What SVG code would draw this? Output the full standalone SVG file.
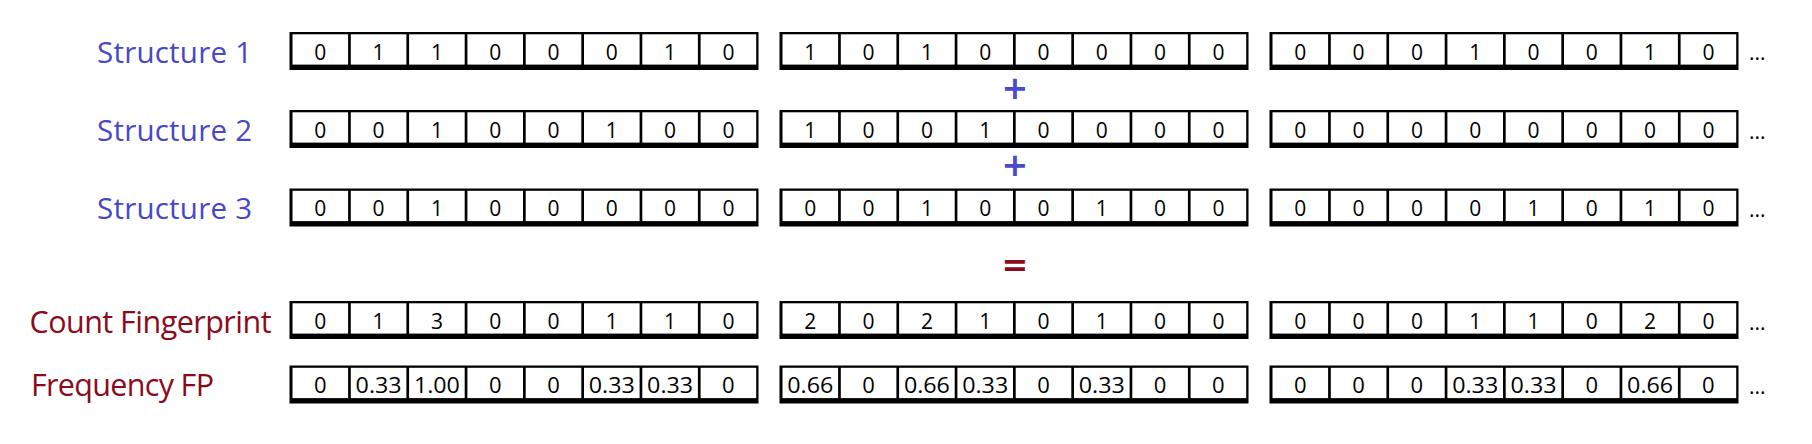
<svg xmlns="http://www.w3.org/2000/svg" xmlns:xlink="http://www.w3.org/1999/xlink" width="1812" height="444" viewBox="0 0 1812 444">
<style>
.d{font-family:"Open Sans","Noto Sans",sans-serif;font-size:21px;fill:#000;text-anchor:middle}
.f{font-family:"Open Sans","Noto Sans",sans-serif;font-size:22px;fill:#000;text-anchor:middle}
.dots{font-family:"Open Sans","Noto Sans",sans-serif;font-size:21px;fill:#000}
.lb{font-family:"Open Sans","Noto Sans",sans-serif;font-size:29.5px;fill:#4747c9}
.lr{font-family:"Open Sans","Noto Sans",sans-serif;font-size:30.5px;fill:#8b0b1d}
.op{font-family:"DejaVu Sans",sans-serif;font-weight:bold;text-anchor:middle;font-size:32px}
</style>
<defs>
<g id="frame">
<rect x="0" y="0" width="469" height="38" fill="#000"/>
<rect x="3" y="2.3" width="55.6" height="30.3" fill="#fff"/>
<rect x="61.3" y="2.3" width="55.6" height="30.3" fill="#fff"/>
<rect x="119.6" y="2.3" width="55.6" height="30.3" fill="#fff"/>
<rect x="177.9" y="2.3" width="55.6" height="30.3" fill="#fff"/>
<rect x="236.2" y="2.3" width="55.6" height="30.3" fill="#fff"/>
<rect x="294.5" y="2.3" width="55.6" height="30.3" fill="#fff"/>
<rect x="352.8" y="2.3" width="55.6" height="30.3" fill="#fff"/>
<rect x="411.1" y="2.3" width="55.6" height="30.3" fill="#fff"/>
</g>
</defs>
<rect width="1812" height="444" fill="#fff"/>

<g id="labels">
<text class="lb" x="97" y="62.7" textLength="155">Structure 1</text>
<text class="lb" x="97" y="141" textLength="155">Structure 2</text>
<text class="lb" x="97" y="219.3" textLength="155">Structure 3</text>
<text class="lr" x="29.5" y="333" textLength="242">Count Fingerprint</text>
<text class="lr" x="31" y="395.5" textLength="183">Frequency FP</text>
</g>

<g id="structure1">
<use href="#frame" x="289.5" y="32"/>
<use href="#frame" x="779.5" y="32"/>
<use href="#frame" x="1269.5" y="32"/>
<text class="d" y="59.5" x="320.3 378.6 436.9 495.2 553.5 611.8 670.1 728.4">01100010</text>
<text class="d" y="59.5" x="810.3 868.6 926.9 985.2 1043.5 1101.8 1160.1 1218.4">10100000</text>
<text class="d" y="59.5" x="1300.3 1358.6 1416.9 1475.2 1533.5 1591.8 1650.1 1708.4">00010010</text>
<text class="dots" x="1749" y="60">...</text>
</g>

<g id="structure2">
<use href="#frame" x="289.5" y="110"/>
<use href="#frame" x="779.5" y="110"/>
<use href="#frame" x="1269.5" y="110"/>
<text class="d" y="137.5" x="320.3 378.6 436.9 495.2 553.5 611.8 670.1 728.4">00100100</text>
<text class="d" y="137.5" x="810.3 868.6 926.9 985.2 1043.5 1101.8 1160.1 1218.4">10010000</text>
<text class="d" y="137.5" x="1300.3 1358.6 1416.9 1475.2 1533.5 1591.8 1650.1 1708.4">00000000</text>
<text class="dots" x="1749" y="138.5">...</text>
</g>

<g id="structure3">
<use href="#frame" x="289.5" y="188.5"/>
<use href="#frame" x="779.5" y="188.5"/>
<use href="#frame" x="1269.5" y="188.5"/>
<text class="d" y="216" x="320.3 378.6 436.9 495.2 553.5 611.8 670.1 728.4">00100000</text>
<text class="d" y="216" x="810.3 868.6 926.9 985.2 1043.5 1101.8 1160.1 1218.4">00100100</text>
<text class="d" y="216" x="1300.3 1358.6 1416.9 1475.2 1533.5 1591.8 1650.1 1708.4">00001010</text>
<text class="dots" x="1749" y="217">...</text>
</g>

<g id="operators">
<text class="op" x="1015" y="99" fill="#4a4ad0">+</text>
<text class="op" x="1015" y="176" fill="#4a4ad0">+</text>
<text class="op" x="1015" y="276" fill="#8b0b1d">=</text>
</g>

<g id="count">
<use href="#frame" x="289.5" y="301"/>
<use href="#frame" x="779.5" y="301"/>
<use href="#frame" x="1269.5" y="301"/>
<text class="d" y="328.5" x="320.3 378.6 436.9 495.2 553.5 611.8 670.1 728.4">01300110</text>
<text class="d" y="328.5" x="810.3 868.6 926.9 985.2 1043.5 1101.8 1160.1 1218.4">20210100</text>
<text class="d" y="328.5" x="1300.3 1358.6 1416.9 1475.2 1533.5 1591.8 1650.1 1708.4">00011020</text>
<text class="dots" x="1749" y="329.5">...</text>
</g>

<g id="frequency">
<use href="#frame" x="289.5" y="365.5"/>
<use href="#frame" x="779.5" y="365.5"/>
<use href="#frame" x="1269.5" y="365.5"/>
<text class="f" y="393" x="320.3">0</text>
<text class="f" y="393" x="378.6" textLength="46" lengthAdjust="spacingAndGlyphs">0.33</text>
<text class="f" y="393" x="436.9" textLength="46" lengthAdjust="spacingAndGlyphs">1.00</text>
<text class="f" y="393" x="495.2">0</text>
<text class="f" y="393" x="553.5">0</text>
<text class="f" y="393" x="611.8" textLength="46" lengthAdjust="spacingAndGlyphs">0.33</text>
<text class="f" y="393" x="670.1" textLength="46" lengthAdjust="spacingAndGlyphs">0.33</text>
<text class="f" y="393" x="728.4">0</text>
<text class="f" y="393" x="810.3" textLength="46" lengthAdjust="spacingAndGlyphs">0.66</text>
<text class="f" y="393" x="868.6">0</text>
<text class="f" y="393" x="926.9" textLength="46" lengthAdjust="spacingAndGlyphs">0.66</text>
<text class="f" y="393" x="985.2" textLength="46" lengthAdjust="spacingAndGlyphs">0.33</text>
<text class="f" y="393" x="1043.5">0</text>
<text class="f" y="393" x="1101.8" textLength="46" lengthAdjust="spacingAndGlyphs">0.33</text>
<text class="f" y="393" x="1160.1">0</text>
<text class="f" y="393" x="1218.4">0</text>
<text class="f" y="393" x="1300.3">0</text>
<text class="f" y="393" x="1358.6">0</text>
<text class="f" y="393" x="1416.9">0</text>
<text class="f" y="393" x="1475.2" textLength="46" lengthAdjust="spacingAndGlyphs">0.33</text>
<text class="f" y="393" x="1533.5" textLength="46" lengthAdjust="spacingAndGlyphs">0.33</text>
<text class="f" y="393" x="1591.8">0</text>
<text class="f" y="393" x="1650.1" textLength="46" lengthAdjust="spacingAndGlyphs">0.66</text>
<text class="f" y="393" x="1708.4">0</text>
<text class="dots" x="1749" y="394">...</text>
</g>
</svg>
